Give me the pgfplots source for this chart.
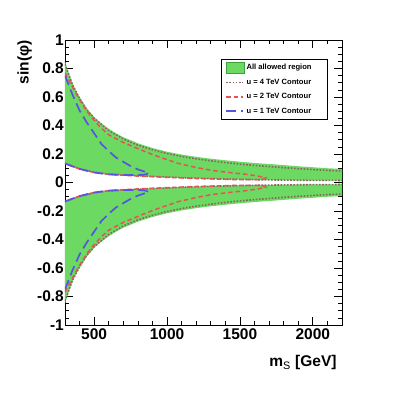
\documentclass[border=0pt]{standalone}
\usepackage{fontspec}
\setmainfont{Liberation Sans}
\usepackage{pgfplots}
\pgfplotsset{compat=1.18}

\definecolor{allowgreen}{RGB}{108,218,98}
\definecolor{allowedge}{RGB}{60,160,60}
\definecolor{cfour}{RGB}{140,100,95}
\definecolor{ctwo}{RGB}{225,85,85}
\definecolor{cone}{RGB}{85,85,225}

\begin{document}
\begin{tikzpicture}
\useasboundingbox (-65pt,-68pt) rectangle (342pt,325pt);
\begin{axis}[
  at={(0pt,0pt)}, anchor=south west,
  width=277pt, height=285pt, scale only axis,
  xmin=300, xmax=2200, ymin=-1, ymax=1,
  xtick={500,1000,1500,2000},
  xticklabels={500,1000,1500,2000},
  minor xtick={300,400,600,700,800,900,1100,1200,1300,1400,1600,1700,1800,1900,2100,2200},
  ytick={-1,-0.8,-0.6,-0.4,-0.2,0,0.2,0.4,0.6,0.8,1},
  yticklabels={-1,-0.8,-0.6,-0.4,-0.2,0,0.2,0.4,0.6,0.8,1},
  minor ytick={-0.95,-0.9,-0.85,-0.75,-0.7,-0.65,-0.55,-0.5,-0.45,-0.35,-0.3,-0.25,-0.15,-0.1,-0.05,0.05,0.1,0.15,0.25,0.3,0.35,0.45,0.5,0.55,0.65,0.7,0.75,0.85,0.9,0.95},
  tick align=inside,
  major tick length=8pt, minor tick length=4pt,
  tick style={black, line width=0.7pt},
  axis line style={line width=0.9pt},
  ticklabel style={font=\fontsize{15.5}{18}\selectfont\bfseries},
  yticklabel style={inner xsep=1pt},
  xticklabel style={inner ysep=3pt},
  xlabel={m$_{\mathrm{S}}$ [GeV]},
  ylabel={sin(φ)},
  label style={font=\fontsize{15.5}{18}\selectfont\bfseries},
  xlabel style={at={(axis description cs:0.993,-0.094)}, anchor=north east},
  ylabel style={at={(axis description cs:-0.119,1)}, anchor=south east, inner sep=0pt},
  legend style={at={(0.949,0.934)}, anchor=north east, draw=black, line width=0.6pt,
    fill=white, font=\fontsize{7.6}{9}\selectfont\bfseries, row sep=3.5pt,
    inner xsep=4pt, inner ysep=3pt},
  legend cell align=left,
  clip=true,
]
% allowed region, upper band
\addplot[fill=allowgreen, draw=none,
  legend image code/.code={\draw[fill=allowgreen, draw=allowedge, line width=0.5pt] (0pt,-5.5pt) rectangle (18pt,5.5pt);}]
  coordinates {
  (300,0.85) (325,0.77) (350,0.70) (375,0.645) (400,0.60) (450,0.52) (500,0.46)
  (550,0.415) (600,0.377) (650,0.345) (700,0.318) (800,0.275) (900,0.242) (1000,0.216)
  (1100,0.196) (1200,0.18) (1300,0.167) (1400,0.156) (1500,0.146) (1600,0.137)
  (1700,0.13) (1800,0.122) (1900,0.114) (2000,0.107) (2100,0.1) (2200,0.095) (2250,0.093)
  (2250,0.012) (2000,0.013) (1800,0.015) (1600,0.018) (1400,0.022) (1200,0.028)
  (1000,0.036) (900,0.04) (800,0.045) (700,0.05) (600,0.057) (500,0.07)
  (450,0.08) (400,0.095) (350,0.112) (300,0.133)
  } --cycle;
\addlegendentry{All allowed region\hspace*{10pt}}
% allowed region, lower band
\addplot[fill=allowgreen, draw=none, forget plot]
  coordinates {
  (300,-0.85) (325,-0.77) (350,-0.70) (375,-0.645) (400,-0.60) (450,-0.52) (500,-0.46)
  (550,-0.415) (600,-0.377) (650,-0.345) (700,-0.318) (800,-0.275) (900,-0.242) (1000,-0.216)
  (1100,-0.196) (1200,-0.18) (1300,-0.167) (1400,-0.156) (1500,-0.146) (1600,-0.137)
  (1700,-0.13) (1800,-0.122) (1900,-0.114) (2000,-0.107) (2100,-0.1) (2200,-0.095) (2250,-0.093)
  (2250,-0.012) (2000,-0.013) (1800,-0.015) (1600,-0.018) (1400,-0.022) (1200,-0.028)
  (1000,-0.036) (900,-0.04) (800,-0.045) (700,-0.05) (600,-0.057) (500,-0.07)
  (450,-0.08) (400,-0.095) (350,-0.112) (300,-0.133)
  } --cycle;

% u = 4 TeV
\addplot[cfour, line width=1.6pt, dash pattern=on 1.6pt off 1.6pt] coordinates {
  (300,0.83) (350,0.69) (400,0.59) (450,0.51) (500,0.45) (600,0.365) (700,0.305)
  (800,0.262) (900,0.23) (1000,0.203) (1100,0.183) (1200,0.166) (1300,0.152)
  (1400,0.14) (1500,0.129) (1600,0.12) (1700,0.112) (1800,0.104) (1900,0.097)
  (2000,0.091) (2100,0.085) (2200,0.081) (2260,0.078)
  (2260,0.014) (2000,0.015) (1800,0.017) (1600,0.02) (1400,0.024) (1200,0.03)
  (1000,0.038) (800,0.047) (600,0.059) (500,0.072) (400,0.097) (300,0.135)
  };
\addlegendentry{u = 4 TeV Contour}
\addplot[cfour, line width=1.6pt, dash pattern=on 1.6pt off 1.6pt, forget plot] coordinates {
  (300,-0.83) (350,-0.69) (400,-0.59) (450,-0.51) (500,-0.45) (600,-0.365) (700,-0.305)
  (800,-0.262) (900,-0.23) (1000,-0.203) (1100,-0.183) (1200,-0.166) (1300,-0.152)
  (1400,-0.14) (1500,-0.129) (1600,-0.12) (1700,-0.112) (1800,-0.104) (1900,-0.097)
  (2000,-0.091) (2100,-0.085) (2200,-0.081) (2260,-0.078)
  (2260,-0.014) (2000,-0.015) (1800,-0.017) (1600,-0.02) (1400,-0.024) (1200,-0.03)
  (1000,-0.038) (800,-0.047) (600,-0.059) (500,-0.072) (400,-0.097) (300,-0.135)
  };

% u = 2 TeV
\addplot[ctwo, line width=1.5pt, dash pattern=on 4.5pt off 3pt] coordinates {
  (300,0.77) (335,0.70) (400,0.58) (450,0.5) (500,0.435) (550,0.38) (600,0.335)
  (700,0.28) (800,0.238) (866,0.21) (950,0.178) (1074,0.135) (1200,0.105)
  (1306,0.085) (1400,0.073) (1537,0.058) (1620,0.046) (1676,0.033)
  (1650,0.02) (1500,0.02) (1400,0.022) (1200,0.028) (1000,0.036) (800,0.045)
  (600,0.057) (500,0.07) (400,0.095) (300,0.133)
  };
\addlegendentry{u = 2 TeV Contour}
\addplot[ctwo, line width=1.5pt, dash pattern=on 4.5pt off 3pt, forget plot] coordinates {
  (300,-0.77) (335,-0.70) (400,-0.58) (450,-0.5) (500,-0.435) (550,-0.38) (600,-0.335)
  (700,-0.28) (800,-0.238) (866,-0.21) (950,-0.178) (1074,-0.135) (1200,-0.105)
  (1306,-0.085) (1400,-0.073) (1537,-0.058) (1620,-0.046) (1676,-0.033)
  (1650,-0.02) (1500,-0.02) (1400,-0.022) (1200,-0.028) (1000,-0.036) (800,-0.045)
  (600,-0.057) (500,-0.07) (400,-0.095) (300,-0.133)
  };

% u = 1 TeV
\addplot[cone, line width=1.7pt, dash pattern=on 10pt off 5pt] coordinates {
  (300,0.75) (350,0.62) (400,0.505) (450,0.42) (500,0.345) (550,0.27) (600,0.22)
  (650,0.175) (700,0.145) (750,0.115) (800,0.092) (850,0.075) (875,0.066)
  (850,0.056) (800,0.052) (700,0.052) (600,0.057) (500,0.07) (400,0.095) (300,0.133)
  };
\addlegendentry{u = 1 TeV Contour}
\addplot[cone, line width=1.7pt, dash pattern=on 10pt off 5pt, forget plot] coordinates {
  (300,-0.75) (350,-0.62) (400,-0.505) (450,-0.42) (500,-0.345) (550,-0.27) (600,-0.22)
  (650,-0.175) (700,-0.145) (750,-0.115) (800,-0.092) (850,-0.075) (875,-0.066)
  (850,-0.056) (800,-0.052) (700,-0.052) (600,-0.057) (500,-0.07) (400,-0.095) (300,-0.133)
  };
\end{axis}
\end{tikzpicture}
\end{document}
